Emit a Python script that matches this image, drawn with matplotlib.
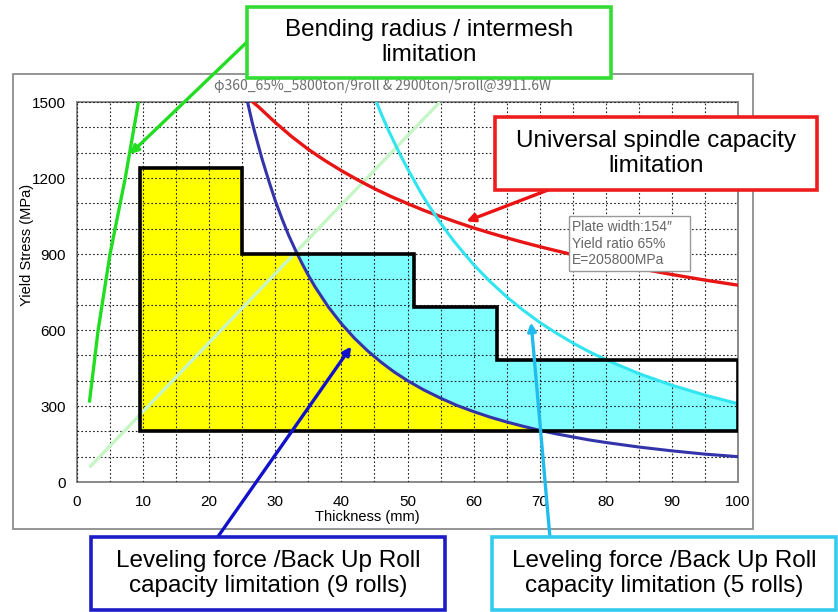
import matplotlib
matplotlib.use("Agg")
import matplotlib.pyplot as plt
from matplotlib.patches import Polygon, Rectangle
from matplotlib.ticker import MultipleLocator

plt.rcParams['font.family'] = ['Liberation Sans', 'DejaVu Sans']

# ---------------- data ----------------
title_text = "\u03c6360_65%_5800ton/9roll & 2900ton/5roll@3911.6W"
x_label = "Thickness (mm)"
y_label = "Yield Stress (MPa)"
x_ticks = [0, 10, 20, 30, 40, 50, 60, 70, 80, 90, 100]
y_ticks = [0, 300, 600, 900, 1200, 1500]

# operating envelope (step shape)
env_edges_x = [9.5, 25, 51, 63.5, 100]
env_top = [1240, 900, 690, 480]
env_bottom = 200

# leveling force limit, 9 rolls (dark blue)
lev9_x = [25.8, 26.5, 27, 28, 29, 30, 31, 32, 33, 34, 35, 36, 38, 40, 42, 44, 46, 48, 50,
          52.5, 55, 57.5, 60, 62.5, 65, 67.5, 70, 72.5, 75, 77.5, 80, 85, 90, 95, 100]
lev9_y = [1500, 1420, 1370, 1275, 1190, 1110, 1040, 975, 918, 865, 816, 771, 692, 625, 567,
          517, 473, 434, 400, 363, 331, 302, 278, 256, 237, 220, 204, 190, 178, 166, 156,
          138, 123, 110, 100]

# leveling force limit, 5 rolls (cyan)
lev5_x = [45.3, 46, 47, 48, 49, 50, 51, 52, 53, 55, 57, 60, 62.5, 65, 67.5, 70, 72.5, 75,
          77.5, 80, 85, 90, 95, 100]
lev5_y = [1500, 1455, 1395, 1340, 1287, 1237, 1190, 1143, 1100, 1022, 951, 858, 791, 731,
          678, 630, 588, 549, 514, 483, 428, 382, 343, 309]

# universal spindle capacity (red)
spin_x = [26.6, 27.5, 30, 32.5, 35, 37.5, 40, 42.5, 45, 47.5, 50, 52.5, 55, 57.5, 60, 62.5,
          65, 67.5, 70, 72.5, 75, 77.5, 80, 85, 90, 95, 100]
spin_y = [1500, 1480, 1419, 1363, 1313, 1269, 1229, 1192, 1158, 1127, 1099, 1072, 1048, 1025,
          1003, 983, 964, 946, 929, 913, 897, 883, 869, 843, 819, 797, 777]

# bending radius / intermesh (green)
bend_x = [1.9, 3.2, 5.0, 7.3, 9.3]
bend_y = [320, 600, 900, 1200, 1500]

# pale green line
pale_x = [1.9, 54.9]
pale_y = [58, 1500]

info_text = "Plate width:154\u2033\nYield ratio 65%\nE=205800MPa"
label_bend = "Bending radius / intermesh\nlimitation"
label_spin = "Universal spindle capacity\nlimitation"
label_lev9 = "Leveling force /Back Up Roll\ncapacity limitation (9 rolls)"
label_lev5 = "Leveling force /Back Up Roll\ncapacity limitation (5 rolls)"

X_MIN, X_MAX = 0, 100
Y_MIN, Y_MAX = 0, 1500

# ---------------- figure ----------------
W, H = 838, 612
fig = plt.figure(figsize=(W / 100, H / 100), dpi=100)
fig.patch.set_facecolor('white')


def fx(px):
    return px / W


def fy(py):
    return (H - py) / H


ax = fig.add_axes([fx(77), fy(482), (738 - 77) / W, (482 - 102) / H])
ax.set_xlim(X_MIN, X_MAX)
ax.set_ylim(Y_MIN, Y_MAX)

# outer chart frame
fig.add_artist(Rectangle((fx(13), fy(529)), (753 - 13) / W, (529 - 74) / H,
                         transform=fig.transFigure, fill=False,
                         edgecolor='#8c8c8c', lw=1.3, zorder=-1))

# envelope outline
env_verts = [(env_edges_x[0], env_bottom)]
for i, top in enumerate(env_top):
    env_verts.append((env_edges_x[i], top))
    env_verts.append((env_edges_x[i + 1], top))
env_verts.append((env_edges_x[-1], env_bottom))
outline = Polygon(env_verts, closed=True, fill=False, edgecolor='black', lw=2.6, zorder=6,
                  joinstyle='miter')
ax.add_patch(outline)

# fills clipped by envelope
cyan_verts = [(X_MIN, Y_MAX)] + list(zip(lev5_x, lev5_y)) + [(X_MAX, Y_MIN), (X_MIN, Y_MIN)]
cyan_fill = Polygon(cyan_verts, closed=True, facecolor='#80ffff', edgecolor='none', zorder=1)
ax.add_patch(cyan_fill)
cyan_fill.set_clip_path(outline)

yel_verts = [(X_MIN, Y_MAX)] + list(zip(lev9_x, lev9_y)) + [(X_MAX, Y_MIN), (X_MIN, Y_MIN)]
yel_fill = Polygon(yel_verts, closed=True, facecolor='#ffff00', edgecolor='none', zorder=1.1)
ax.add_patch(yel_fill)
yel_fill.set_clip_path(outline)

# curves
ax.plot(pale_x, pale_y, color='#c6f5c6', lw=2.4, zorder=3, solid_capstyle='butt')
ax.plot(spin_x, spin_y, color='#e81515', lw=2.4, zorder=4)
ax.plot(lev5_x, lev5_y, color='#30e4f0', lw=2.2, zorder=4)
ax.plot(lev9_x, lev9_y, color='#3434aa', lw=2.2, zorder=4)
ax.plot(bend_x, bend_y, color='#22dd22', lw=2.4, zorder=4)

# grid & axes styling
ax.set_xticks(x_ticks)
ax.set_yticks(y_ticks)
ax.xaxis.set_minor_locator(MultipleLocator(5))
ax.yaxis.set_minor_locator(MultipleLocator(100))
ax.set_axisbelow(False)
ax.grid(which='both', color='#202020', linestyle=(0, (1.5, 2.0)), lw=0.8)
ax.tick_params(which='both', length=0, labelsize=11)
ax.tick_params(axis='x', pad=9)
ax.tick_params(axis='y', pad=8)
for sp in ax.spines.values():
    sp.set_color('#8a8a8a')
    sp.set_linewidth(1.4)

ax.set_xlabel(x_label, fontsize=10.5)
ax.xaxis.set_label_coords((367 - 77) / 661, (482 - 517) / 380)
ax.set_ylabel(y_label, fontsize=10.5)
ax.yaxis.set_label_coords((27 - 77) / 661, (482 - 245) / 380)
ax.xaxis.label.set_va('center')
ax.yaxis.label.set_va('center')

fig.text(fx(383), fy(86), title_text, ha='center', va='center', fontsize=10,
         color='#6e6e6e', family=['Noto Sans CJK JP', 'DejaVu Sans'])

# info box
fig.add_artist(Rectangle((fx(569), fy(271)), (690 - 569) / W, (271 - 216) / H,
                         transform=fig.transFigure, facecolor='white',
                         edgecolor='#9a9a9a', lw=1.0, zorder=8))
fig.text(fx(572), fy(243.5), info_text, ha='left', va='center', fontsize=10,
         color='#666666', linespacing=1.25, zorder=9)


def callout(x0, y0, x1, y1, text, color):
    fig.add_artist(Rectangle((fx(x0), fy(y1)), (x1 - x0) / W, (y1 - y0) / H,
                             transform=fig.transFigure, facecolor='white',
                             edgecolor=color, lw=2.6, zorder=10))
    fig.text(fx((x0 + x1) / 2), fy((y0 + y1) / 2), text, ha='center', va='center',
             fontsize=17.5, color='black', linespacing=1.15, zorder=11)


def arrow(start_px, target, color):
    ax.annotate('', xy=target, xycoords='data',
                xytext=(start_px[0], H - start_px[1]), textcoords='figure pixels',
                arrowprops=dict(arrowstyle='-|>', color=color, lw=2.4,
                                mutation_scale=12, shrinkA=0, shrinkB=0),
                annotation_clip=False, zorder=9)


arrow((247, 42), (8.0, 1294), '#22dd22')
arrow((548, 190), (58.9, 1029), '#ee1111')
arrow((217, 538), (41.5, 535), '#1111cc')
arrow((550, 538), (68.7, 630), '#22bbee')

callout(247, 7, 611, 78, label_bend, '#33dd33')
callout(495, 117, 817, 190, label_spin, '#ee1c1c')
callout(91, 537, 445, 610, label_lev9, '#1c1cc8')
callout(492, 537, 836, 610, label_lev5, '#33ccee')

fig.savefig('out.png', dpi=100, facecolor='white')
